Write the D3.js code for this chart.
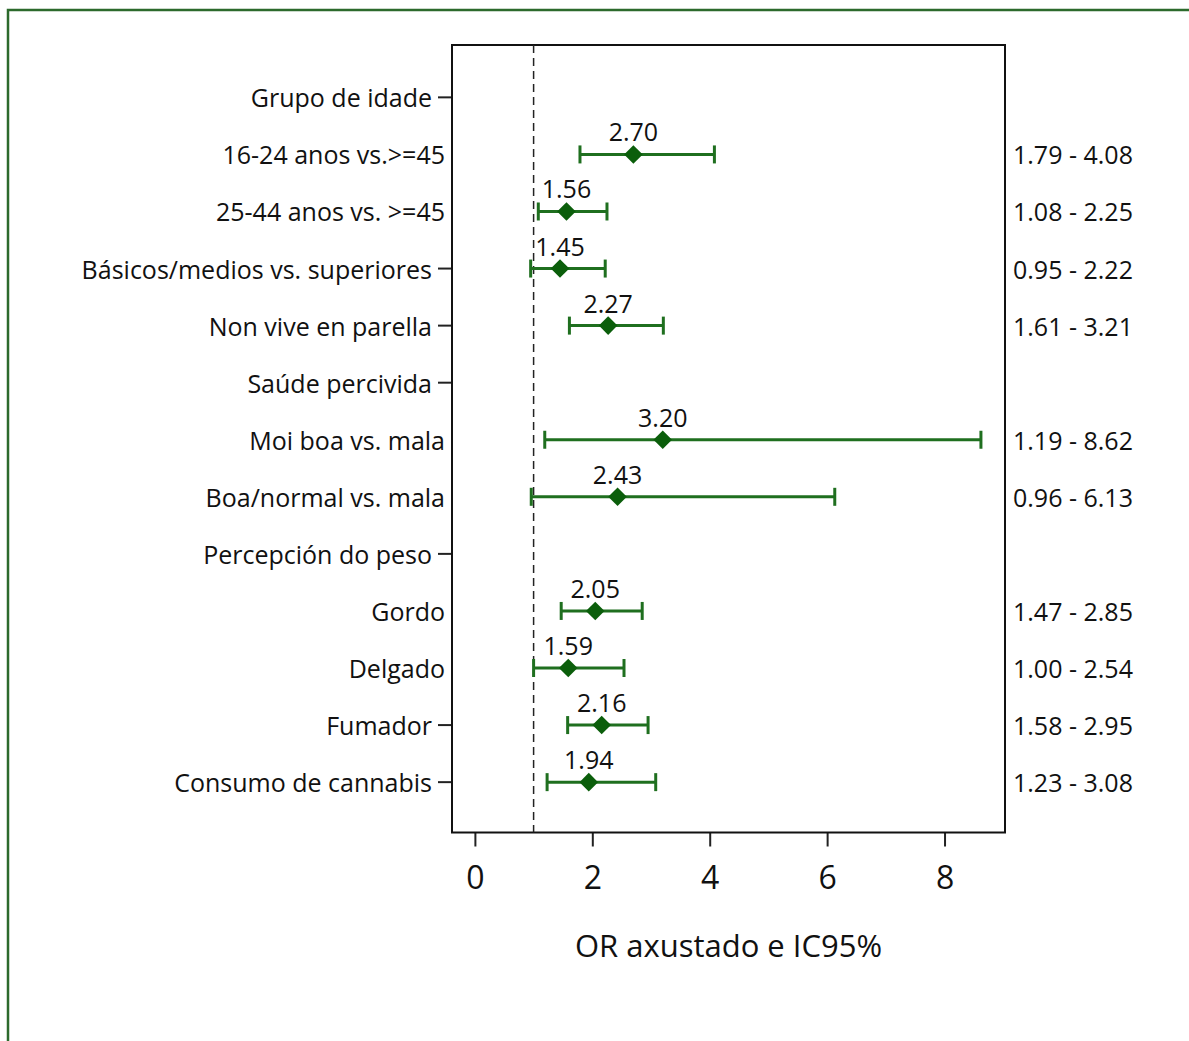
<!DOCTYPE html>
<html>
<head>
<meta charset="utf-8">
<script src="https://cdn.jsdelivr.net/npm/d3@7"></script>
<style>
  body { margin: 0; background: #fff; }
  svg { display: block; font-family: "Open Sans", Lato, sans-serif; }
</style>
</head>
<body>
<svg id="chart" width="1189" height="1041"></svg>
<script>
// rows, top to bottom
const categories = [
  "Grupo de idade",
  "16-24 anos vs.>=45",
  "25-44 anos vs. >=45",
  "Básicos/medios vs. superiores",
  "Non vive en parella",
  "Saúde percivida",
  "Moi boa vs. mala",
  "Boa/normal vs. mala",
  "Percepción do peso",
  "Gordo",
  "Delgado",
  "Fumador",
  "Consumo de cannabis"
]
// null = header row without an estimate
const oddsRatio = [null, 2.70, 1.56, 1.45, 2.27, null, 3.20, 2.43, null, 2.05, 1.59, 2.16, 1.94]
const ciLow     = [null, 1.79, 1.08, 0.95, 1.61, null, 1.19, 0.96, null, 1.47, 1.00, 1.58, 1.23]
const ciHigh    = [null, 4.08, 2.25, 2.22, 3.21, null, 8.62, 6.13, null, 2.85, 2.54, 2.95, 3.08]
const xTicks = [0, 2, 4, 6, 8]
const refLine = 1
const xTitle = "OR axustado e IC95%"

// rows whose label was typed over the axis tick in the original
const noTick = new Set(["16-24 anos vs.>=45", "25-44 anos vs. >=45", "Moi boa vs. mala",
  "Boa/normal vs. mala", "Gordo", "Delgado"])

const rows = categories.map((name, i) => ({
  name, or: oddsRatio[i], lo: ciLow[i], hi: ciHigh[i]
}))

const svg = d3.select("#chart")
const box = { left: 452, right: 1005, top: 45, bottom: 832.5 }
const lineGreen = "#1f6f1f", dotGreen = "#0b5e0b"
const fs = 25

// outer frame (cut off at right and bottom like the original)
svg.append("rect")
  .attr("x", 8).attr("y", 10)
  .attr("width", 1200).attr("height", 1060)
  .attr("fill", "none").attr("stroke", "#2c6a2c").attr("stroke-width", 2.5)

const x = d3.scaleLinear().domain([-0.39, 9.03]).range([box.left, box.right])
const y = d3.scalePoint().domain(categories).range([box.top + 1, box.bottom + 1]).padding(0.9)

// x axis
const xAxis = svg.append("g")
  .attr("transform", `translate(0,${box.bottom})`)
  .call(d3.axisBottom(x).tickValues(xTicks).tickSize(14).tickPadding(20).tickFormat(d3.format("d")))
xAxis.select(".domain").remove()
xAxis.selectAll("line").attr("stroke", "#222").attr("stroke-width", 2)
xAxis.selectAll("text").attr("font-size", 32).attr("fill", "#111")
  .attr("font-family", "'Open Sans', sans-serif")

// y ticks, only where the label did not cover them
svg.append("g").selectAll("line")
  .data(rows.filter(d => !noTick.has(d.name)))
  .join("line")
    .attr("x1", box.left - 14).attr("x2", box.left)
    .attr("y1", d => y(d.name)).attr("y2", d => y(d.name))
    .attr("stroke", "#222").attr("stroke-width", 2)

svg.append("g").selectAll("text")
  .data(rows)
  .join("text")
    .attr("x", d => noTick.has(d.name) ? box.left - 7 : box.left - 20)
    .attr("y", d => y(d.name) + 10)
    .attr("text-anchor", "end")
    .attr("font-size", fs)
    .attr("fill", "#111")
    .text(d => d.name)

// plot frame
svg.append("rect")
  .attr("x", box.left).attr("y", box.top)
  .attr("width", box.right - box.left).attr("height", box.bottom - box.top)
  .attr("fill", "none").attr("stroke", "#111").attr("stroke-width", 2)

// reference line at OR = 1
svg.append("line")
  .attr("x1", x(refLine)).attr("x2", x(refLine))
  .attr("y1", box.top).attr("y2", box.bottom)
  .attr("stroke", "#222").attr("stroke-width", 1.5)
  .attr("stroke-dasharray", "8,5")

const est = rows.filter(d => d.or != null)
const g = svg.append("g")

// CI whiskers
g.selectAll(".ci")
  .data(est)
  .join("line")
    .attr("class", "ci")
    .attr("x1", d => x(d.lo)).attr("x2", d => x(d.hi))
    .attr("y1", d => y(d.name)).attr("y2", d => y(d.name))
    .attr("stroke", lineGreen).attr("stroke-width", 3)

g.selectAll(".cap")
  .data(est.flatMap(d => [{ name: d.name, v: d.lo }, { name: d.name, v: d.hi }]))
  .join("line")
    .attr("class", "cap")
    .attr("x1", d => x(d.v)).attr("x2", d => x(d.v))
    .attr("y1", d => y(d.name) - 9).attr("y2", d => y(d.name) + 9)
    .attr("stroke", lineGreen).attr("stroke-width", 3)

// point estimates
g.selectAll(".pt")
  .data(est)
  .join("path")
    .attr("class", "pt")
    .attr("d", d3.symbol(d3.symbolDiamond2, 220))
    .attr("transform", d => `translate(${x(d.or)},${y(d.name)})`)
    .attr("fill", dotGreen)

g.selectAll(".lbl")
  .data(est)
  .join("text")
    .attr("class", "lbl")
    .attr("x", d => x(d.or))
    .attr("y", d => y(d.name) - 13)
    .attr("text-anchor", "middle")
    .attr("font-size", fs)
    .attr("fill", "#111")
    .text(d => d.or.toFixed(2))

// CI text on the right
svg.append("g").selectAll("text")
  .data(est)
  .join("text")
    .attr("x", 1013)
    .attr("y", d => y(d.name) + 10)
    .attr("font-size", fs)
    .attr("fill", "#111")
    .text(d => `${d.lo.toFixed(2)} - ${d.hi.toFixed(2)}`)

svg.append("text")
  .attr("x", (box.left + box.right) / 2)
  .attr("y", 957)
  .attr("text-anchor", "middle")
  .attr("font-size", 31)
  .attr("fill", "#111")
  .text(xTitle)
</script>
</body>
</html>
